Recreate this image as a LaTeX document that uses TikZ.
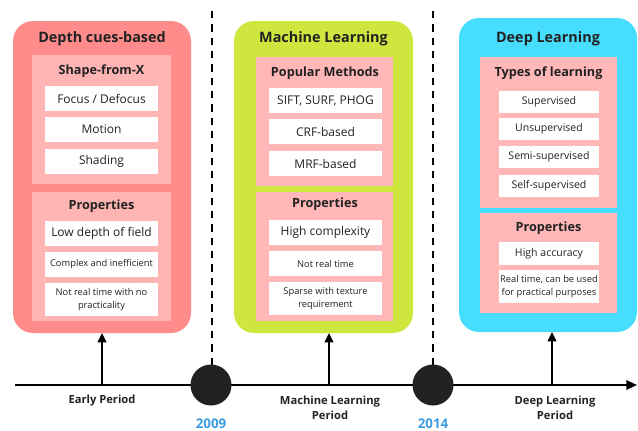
\documentclass[tikz,border=0pt]{standalone}
\usepackage{fontspec}
\setmainfont{Open Sans}
\usetikzlibrary{arrows.meta}

\definecolor{dcOuter}{HTML}{FF8B8B}
\definecolor{dcInner}{HTML}{FFB4B4}
\definecolor{mlOuter}{HTML}{CFE63F}
\definecolor{dlOuter}{HTML}{47DDFF}
\definecolor{pinkInner}{HTML}{FFB7B7}
\definecolor{yearBlue}{HTML}{3A9BE2}
\definecolor{inkDark}{HTML}{222222}

\tikzset{
  outerbox/.style={rounded corners=15pt, inner sep=0pt, outer sep=0pt, minimum width=#1},
  innerbox/.style={inner sep=0pt, outer sep=0pt, minimum width=#1},
  itembox/.style={fill=white, inner sep=0pt, outer sep=0pt, minimum width=#1, align=center, text=inkDark},
  boxtitle/.style={font=\fontsize{10.8}{13}\selectfont\bfseries, text=inkDark, inner sep=0pt},
  subtitle/.style={font=\fontsize{9.5}{12}\selectfont\bfseries, text=inkDark, inner sep=0pt},
  bigtxt/.style={font=\fontsize{9}{11}\selectfont},
  midtxt/.style={font=\fontsize{7.9}{10}\selectfont},
  smalltxt/.style={font=\fontsize{7}{10}\selectfont},
  periodlbl/.style={font=\fontsize{8.4}{11.5}\selectfont\bfseries, text=inkDark, align=center, inner sep=0pt},
  yearlbl/.style={font=\fontsize{10}{12}\selectfont\bfseries, text=yearBlue, inner sep=0pt},
  upArrow/.style={line width=1.5pt, -{Triangle[length=7pt,width=6.5pt]}}
}

\begin{document}
\begin{tikzpicture}[x=0.75pt,y=0.75pt,yscale=-1,xscale=1]
        \useasboundingbox (0,0) rectangle (638,430);

        %Dashed separators
        \draw [line width=1.5pt, dash pattern=on 5.5pt off 4.5pt]  (212,11) -- (212,366) ;
        \draw [line width=1.5pt, dash pattern=on 5.5pt off 4.5pt]  (433,11) -- (433,366) ;

        %Shape: Depth cues-based
        \node [outerbox=133.5pt, minimum height=234pt, fill=dcOuter] (dc) at (102,177) {};
        \node [innerbox=104.25pt, minimum height=96.75pt, fill=dcInner] (dcA) at (101.5,119.5) {};
        \node [innerbox=104.25pt, minimum height=96.75pt, fill=dcInner] (dcB) at (101.5,256.5) {};
        \node [boxtitle] (dcT) at (102,38.5) {Depth cues-based};
        \node [subtitle] (dcAT) at (101.5,71.5) {Shape-from-X};
        \node [itembox=84.75pt, minimum height=18.75pt, bigtxt] (dc1) at (101.5,98.5) {Focus / Defocus};
        \node [itembox=84.75pt, minimum height=18.75pt, bigtxt] (dc2) at (101.5,129.5) {Motion};
        \node [itembox=84.75pt, minimum height=18.75pt, bigtxt] (dc3) at (101.5,161.5) {Shading};
        \node [subtitle] (dcBT) at (101.5,206) {Properties};
        \node [itembox=84.75pt, minimum height=18.75pt, bigtxt] (dc4) at (101.5,233.5) {Low depth of field};
        \node [itembox=84.75pt, minimum height=18.75pt, smalltxt] (dc5) at (101.5,264.5) {Complex and inefficient};
        \node [itembox=84.75pt, minimum height=24.75pt, smalltxt] (dc6) at (101.5,299.5) {Not real time with no\\practicality};

        %Shape: Machine Learning
        \node [outerbox=134.25pt, minimum height=234pt, fill=mlOuter] (ml) at (323.5,177) {};
        \node [innerbox=102.75pt, minimum height=96.75pt, fill=pinkInner] (mlA) at (324.5,121.5) {};
        \node [innerbox=102.75pt, minimum height=96.75pt, fill=pinkInner] (mlB) at (324.5,256.5) {};
        \node [boxtitle] (mlT) at (323.5,39) {Machine Learning};
        \node [subtitle] (mlAT) at (325,73) {Popular Methods};
        \node [itembox=84.75pt, minimum height=18.75pt, bigtxt] (ml1) at (325.5,100.5) {SIFT, SURF, PHOG};
        \node [itembox=84.75pt, minimum height=18.75pt, bigtxt] (ml2) at (325.5,131.5) {CRF-based};
        \node [itembox=84.75pt, minimum height=18.75pt, bigtxt] (ml3) at (325.5,163.5) {MRF-based};
        \node [subtitle] (mlBT) at (325,204) {Properties};
        \node [itembox=84.75pt, minimum height=18.75pt, bigtxt] (ml4) at (325.5,232.5) {High complexity};
        \node [itembox=84.75pt, minimum height=18.75pt, smalltxt] (ml5) at (325.5,263.5) {Not real time};
        \node [itembox=84.75pt, minimum height=24.75pt, smalltxt] (ml6) at (325.5,298.5) {Sparse with texture\\requirement};

        %Shape: Deep Learning
        \node [outerbox=133.5pt, minimum height=235.5pt, fill=dlOuter] (dl) at (548,175) {};
        \node [innerbox=102.75pt, minimum height=113.25pt, fill=pinkInner] (dlA) at (548.5,132.5) {};
        \node [innerbox=102.75pt, minimum height=75pt, fill=pinkInner] (dlB) at (548.5,263) {};
        \node [boxtitle] (dlT) at (548,38.5) {Deep Learning};
        \node [subtitle] (dlAT) at (548.5,73) {Types of learning};
        \node [itembox=75pt, minimum height=16.5pt, midtxt] (dl1) at (549,102) {Supervised};
        \node [itembox=75pt, minimum height=16.5pt, midtxt] (dl2) at (549,129) {Unsupervised};
        \node [itembox=75pt, minimum height=16.5pt, midtxt] (dl3) at (549,157) {Semi-supervised};
        \node [itembox=75pt, minimum height=16.5pt, midtxt] (dl4) at (549,185.5) {Self-supervised};
        \node [subtitle] (dlBT) at (548.5,228) {Properties};
        \node [itembox=75pt, minimum height=17.25pt, midtxt] (dl5) at (549,253.5) {High accuracy};
        \node [itembox=75pt, minimum height=24.75pt, smalltxt] (dl6) at (549,286.5) {Real time, can be used\\for practical purposes};

        %Timeline
        \coordinate (axL) at (15,385) ;
        \coordinate (axR) at (637,385) ;
        \coordinate (pEarly) at (102,385) ;
        \coordinate (pMl) at (329,385) ;
        \coordinate (pDl) at (552,385) ;
        \draw [line width=1.5pt, -{Triangle[length=8pt,width=7pt]}]  (axL) -- (axR) ;
        \fill [inkDark] (211,385) circle [radius=20.5] ;
        \fill [inkDark] (433,385) circle [radius=20.5] ;
        \draw [upArrow]  (pEarly) -- (pEarly |- dc.south) ;
        \draw [upArrow]  (pMl) -- (pMl |- ml.south) ;
        \draw [upArrow]  (pDl) -- (pDl |- dl.south) ;

        % Text Node
        \node [periodlbl] (lEarly) at (102,401) {Early Period};
        % Text Node
        \node [periodlbl] (lMl) at (330,408) {Machine Learning\\Period};
        % Text Node
        \node [periodlbl] (lDl) at (555,408) {Deep Learning\\Period};
        % Text Node
        \node [yearlbl] (y2009) at (211,424) {2009};
        % Text Node
        \node [yearlbl] (y2014) at (433,424) {2014};

\end{tikzpicture}
\end{document}
